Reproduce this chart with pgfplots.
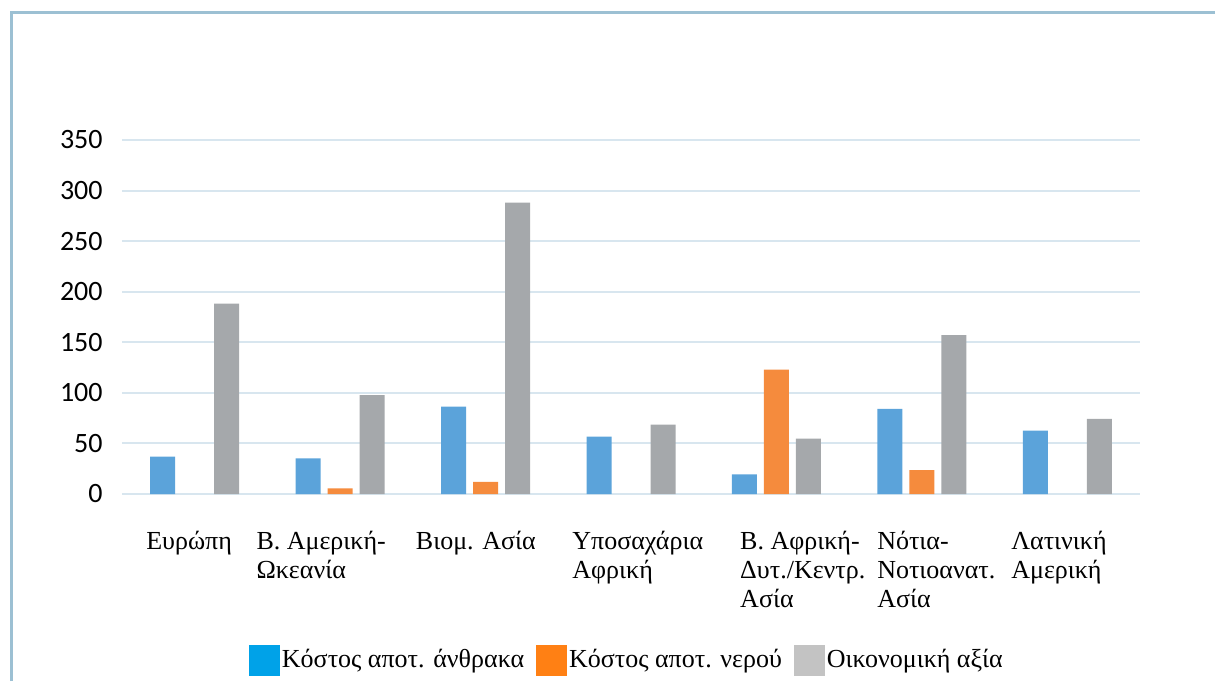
\documentclass[border=0pt]{standalone}
\usepackage{fontspec}
\setmainfont{Liberation Serif}
\newfontfamily\tickfont{Carlito}
\usepackage{pgfplots}
\pgfplotsset{compat=1.18}
\definecolor{barblue}{HTML}{5BA3DA}
\definecolor{barorange}{HTML}{F58B3D}
\definecolor{bargrey}{HTML}{A5A8AB}
\definecolor{legblue}{HTML}{00A2E8}
\definecolor{legorange}{HTML}{FF8014}
\definecolor{leggrey}{HTML}{C3C3C3}
\definecolor{gridc}{HTML}{D8E6EF}
\definecolor{framec}{HTML}{9CC0D3}
\newcommand{\lab}[2]{\hspace*{#1}\begin{tabular}[t]{@{}l@{}}#2\end{tabular}}
\begin{document}
\begin{tikzpicture}
\useasboundingbox (-61pt,-93.5pt) rectangle (546.5pt,247pt);
\draw[color=framec, line width=1.5pt] (-55pt,-93.5pt) -- (-55pt,240.5pt) -- (546.5pt,240.5pt);
\begin{axis}[
  at={(0pt,0pt)}, anchor=south west, scale only axis,
  width=509pt, height=177pt,
  ymin=0, ymax=350, xmin=-0.5, xmax=6.5,
  ytick={0,50,...,350},
  xtick={0,...,6},
  xticklabels={
    {\lab{3.6pt}{Ευρώπη}},
    {\lab{-14pt}{Β. Αμερική-\\Ωκεανία}},
    {\lab{-7pt}{Βιομ. Ασία}},
    {\lab{-1.5pt}{Υποσαχάρια\\Αφρική}},
    {\lab{9.7pt}{Β. Αφρική-\\Δυτ./Κεντρ.\\Ασία}},
    {\lab{5.5pt}{Νότια-\\Νοτιοανατ.\\Ασία}},
    {\lab{-0.2pt}{Λατινική\\Αμερική}}},
  ybar, bar width=12.5pt,
  axis line style={draw=none},
  major tick style={draw=none},
  ymajorgrids, grid style={color=gridc, line width=1pt},
  /pgf/number format/assume math mode=true,
  yticklabel style={font=\tickfont\fontsize{14}{14}\selectfont, anchor=east, inner sep=0pt, xshift=-9.5pt},
  xticklabel style={font=\fontsize{13}{14.5}\selectfont, anchor=north west, inner sep=0pt, xshift=-28pt, yshift=-13pt},
  legend style={at={(0.5,-0.469)}, anchor=center, xshift=-2pt, draw=none, fill=none,
    legend columns=3, font=\fontsize{13}{15}\selectfont,
    nodes={inner sep=1pt},
    /tikz/every even column/.append style={column sep=5pt}},
]
\addplot[fill=barblue, draw=none, bar shift=-16pt, forget plot] coordinates {
  (0,36.9) (1,35.2) (2,86.4) (3,56.7) (4,19.3) (5,84.1) (6,62.6)};
\addplot[fill=barorange, draw=none, bar shift=0pt, forget plot] coordinates {
  (1,5.5) (2,12) (4,123) (5,23.5)};
\addplot[fill=bargrey, draw=none, bar shift=16pt, forget plot] coordinates {
  (0,188.2) (1,97.8) (2,288) (3,68.5) (4,54.8) (5,157.2) (6,74.4)};
\addlegendimage{legend image code/.code={\fill[legblue] (0pt,-7.5pt) rectangle (15pt,7.5pt);}}
\addlegendentry{Κόστος αποτ. άνθρακα}
\addlegendimage{legend image code/.code={\fill[legorange] (0pt,-7.5pt) rectangle (15pt,7.5pt);}}
\addlegendentry{Κόστος αποτ. νερού}
\addlegendimage{legend image code/.code={\fill[leggrey] (0pt,-7.5pt) rectangle (15pt,7.5pt);}}
\addlegendentry{Οικονομική αξία}
\end{axis}
\end{tikzpicture}
\end{document}
